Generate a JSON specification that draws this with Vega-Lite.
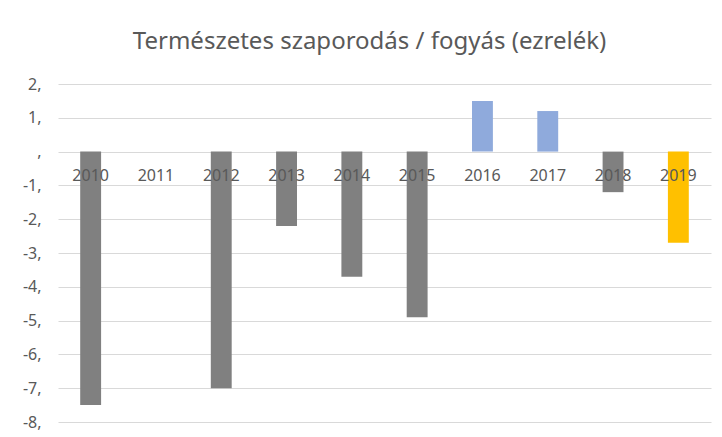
{
  "$schema": "https://vega.github.io/schema/vega-lite/v6.json",
  "width": 653,
  "height": 338,
  "autosize": {"type": "none"},
  "padding": {"left": 58, "top": 84, "right": 11, "bottom": 15},
  "background": "white",
  "title": {
    "text": "Természetes szaporodás / fogyás (ezrelék)",
    "font": "Noto Sans",
    "fontSize": 24,
    "fontWeight": "normal",
    "color": "#595959",
    "anchor": "middle",
    "dx": -15,
    "offset": 22
  },
  "data": {
    "values": [
      {"ev": "2010", "ertek": -7.5, "csoport": "fogyás"},
      {"ev": "2011", "ertek": 0, "csoport": "fogyás"},
      {"ev": "2012", "ertek": -7.0, "csoport": "fogyás"},
      {"ev": "2013", "ertek": -2.2, "csoport": "fogyás"},
      {"ev": "2014", "ertek": -3.7, "csoport": "fogyás"},
      {"ev": "2015", "ertek": -4.9, "csoport": "fogyás"},
      {"ev": "2016", "ertek": 1.5, "csoport": "szaporodás"},
      {"ev": "2017", "ertek": 1.2, "csoport": "szaporodás"},
      {"ev": "2018", "ertek": -1.2, "csoport": "fogyás"},
      {"ev": "2019", "ertek": -2.7, "csoport": "2019"}
    ]
  },
  "mark": {"type": "bar"},
  "encoding": {
    "x": {
      "field": "ev",
      "type": "nominal",
      "sort": null,
      "scale": {"paddingInner": 0.68, "paddingOuter": 0.34},
      "axis": {
        "title": null,
        "orient": "bottom",
        "offset": -271,
        "zindex": 1,
        "domain": false,
        "ticks": false,
        "labelAngle": 0,
        "labelPadding": 16,
        "labelFont": "Noto Sans",
        "labelFontSize": 16,
        "labelColor": "#595959"
      }
    },
    "y": {
      "field": "ertek",
      "type": "quantitative",
      "scale": {"domain": [-8, 2], "nice": false},
      "axis": {
        "title": null,
        "values": [-8, -7, -6, -5, -4, -3, -2, -1, 0, 1, 2],
        "labelExpr": "datum.value == 0 ? ',' : datum.value + ','",
        "domain": false,
        "ticks": false,
        "grid": true,
        "gridColor": "#D9D9D9",
        "gridWidth": 1,
        "labelPadding": 17,
        "labelFont": "Noto Sans",
        "labelFontSize": 16,
        "labelColor": "#595959"
      }
    },
    "color": {
      "field": "csoport",
      "type": "nominal",
      "scale": {"domain": ["fogyás", "szaporodás", "2019"], "range": ["#808080", "#8FAADC", "#FFC000"]},
      "legend": null
    }
  },
  "config": {"view": {"stroke": null}}
}
